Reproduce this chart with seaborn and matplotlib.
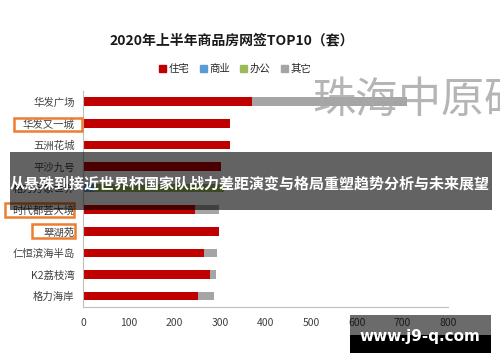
import matplotlib
matplotlib.use("Agg")
import matplotlib.pyplot as plt
import seaborn as sns
import numpy as np
import pandas as pd
from matplotlib.patches import Rectangle

sns.set_theme(style="white")
plt.rcParams['font.family'] = ['Noto Sans CJK SC', 'DejaVu Sans']

categories = ["华发广场", "华发又一城", "五洲花城", "平沙九号", "格力万象世界",
              "时代都荟大境", "翠湖苑", "仁恒滨海半岛", "K2荔枝湾", "格力海岸"]
residential = [371, 323, 323, 303, 0, 246, 297, 266, 279, 253]
commercial = [0, 0, 0, 0, 25, 0, 0, 0, 0, 0]
office = [0, 0, 0, 0, 283, 0, 0, 0, 0, 0]
other = [339, 0, 0, 0, 0, 51, 0, 28, 13, 35]
series_names = ["住宅", "商业", "办公", "其它"]
colors = ["#C00000", "#5B9BD5", "#9BBB59", "#A5A5A5"]
xticks = [0, 100, 200, 300, 400, 500, 600, 700, 800]

title = "2020年上半年商品房网签TOP10（套）"
banner = "从悬殊到接近世界杯国家队战力差距演变与格局重塑趋势分析与未来展望"
watermark = "珠海中原研"
site = "www.j9-q.com"

df = pd.DataFrame({"cat": categories, "住宅": residential, "商业": commercial,
                   "办公": office, "其它": other})
layers = [df[s].to_numpy() for s in series_names]
cums = np.cumsum(np.vstack(layers), axis=0)

fig = plt.figure(figsize=(5.0, 3.62), dpi=100)
ax = fig.add_axes([0.166, 0.152, 0.730, 0.597])

for i in range(len(series_names) - 1, -1, -1):
    sns.barplot(x=cums[i], y=df["cat"], orient="h", color=colors[i],
                width=0.4, ax=ax, saturation=1, linewidth=0, order=categories)

ax.set_xlim(0, 800)
ax.set_xticks(xticks)
ax.set_xticklabels([str(t) for t in xticks], fontsize=7.5, color="#404040")
ax.tick_params(axis="y", labelsize=7.5, labelcolor="#404040", length=0, pad=6)
ax.tick_params(axis="x", length=0, pad=8)
ax.set_xlabel("")
ax.set_ylabel("")
for s in ["top", "right"]:
    ax.spines[s].set_visible(False)
ax.spines["left"].set_color("#BFBFBF")
ax.spines["bottom"].set_color("#BFBFBF")
ax.spines["left"].set_linewidth(0.8)
ax.spines["bottom"].set_linewidth(0.8)

fig.text(0.464, 0.889, title, ha="center", va="center", fontsize=10,
         fontweight="bold", color="#1a1a1a")

# legend
handles = [Rectangle((0, 0), 1, 1, color=c) for c in colors]
fig.legend(handles, series_names, loc="center", bbox_to_anchor=(0.47, 0.81),
           ncol=4, frameon=False, fontsize=7.5, handlelength=0.7, handleheight=0.7,
           handletextpad=0.2, columnspacing=1.0)

# watermark
fig.text(0.624, 0.722, watermark, ha="left", va="center", fontsize=31,
         color="#A8A8A8", fontweight="light", alpha=0.85)

# orange boxes around labels (pixel coords -> figure fraction)
W, H = 500, 362
for (x0, y0, x1, y1) in [(14, 118, 82, 131), (5, 203, 74, 217), (32, 224, 75, 238)]:
    fig.add_artist(Rectangle((x0 / W, 1 - y1 / H), (x1 - x0) / W, (y1 - y0) / H,
                             transform=fig.transFigure, fill=False,
                             edgecolor="#ED7D31", linewidth=1.8))

# banner overlay
fig.add_artist(Rectangle((10 / W, 1 - 210 / H), 482 / W, 58 / H,
                         transform=fig.transFigure, facecolor="black",
                         alpha=0.61, edgecolor="none"))
fig.text(0.5, 1 - 183 / H, banner, ha="center", va="center", fontsize=10.8,
         fontweight="bold", color="white")

# site box
fig.add_artist(Rectangle((350 / W, 1 - 335 / H), 141 / W, 20 / H,
                         transform=fig.transFigure, facecolor="black",
                         alpha=0.58, edgecolor="none"))
fig.add_artist(Rectangle((350 / W, 1 - 353 / H), 141 / W, 18 / H,
                         transform=fig.transFigure, facecolor="black",
                         edgecolor="none"))
fig.text(420 / W, 1 - 337 / H, site, ha="center", va="center", fontsize=11,
         fontweight="bold", color="white", family=["DejaVu Sans"])

fig.savefig("out.png", dpi=100)
